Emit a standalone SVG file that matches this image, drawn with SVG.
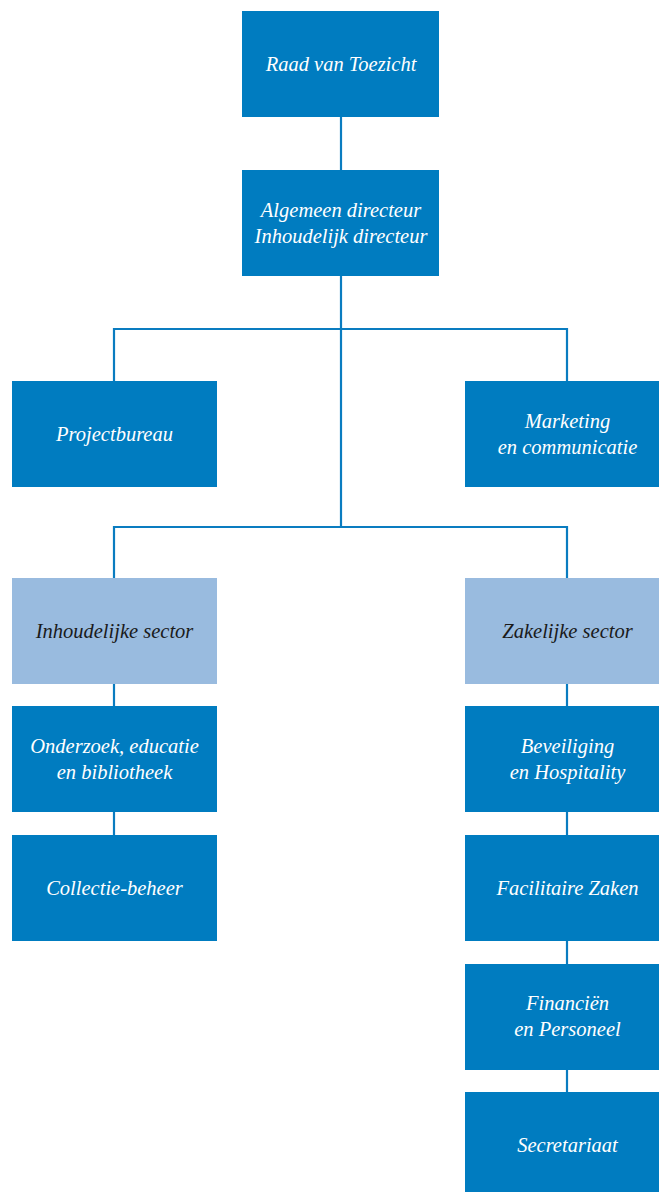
<svg xmlns="http://www.w3.org/2000/svg" width="659" height="1192" viewBox="0 0 659 1192">
<style>
.n{fill:#007cc0}
.s{fill:#99bbdf}
.t{font-family:"Liberation Serif","DejaVu Serif",serif;font-style:italic;font-size:20.5px;text-anchor:middle;fill:#ffffff}
.d{fill:#1a1a1a}
.c{fill:none;stroke:#0a7cc0;stroke-width:2.2}
</style>
<rect width="659" height="1192" fill="#ffffff"/>
<g id="connectors">
<path class="c" d="M341 116V170M341 275V527M114 381V329H567V381M114 578V527H567V578"/>
<path class="c" d="M114 684V706M114 812V835M567 684V706M567 812V835M567 941V964M567 1069V1092"/>
</g>
<g id="raad"><rect class="n" x="242" y="11" width="197" height="106"/><text class="t" x="341" y="71">Raad van Toezicht</text></g>
<g id="directeur"><rect class="n" x="242" y="170" width="197" height="106"/><text class="t" x="341" y="217">Algemeen directeur</text><text class="t" x="341" y="243">Inhoudelijk directeur</text></g>
<g id="projectbureau"><rect class="n" x="12" y="381" width="205" height="106"/><text class="t" x="114.5" y="441">Projectbureau</text></g>
<g id="marketing"><rect class="n" x="465" y="381" width="205" height="106"/><text class="t" x="567.5" y="428">Marketing</text><text class="t" x="567.5" y="454">en communicatie</text></g>
<g id="inhoudelijke"><rect class="s" x="12" y="578" width="205" height="106"/><text class="t d" x="114.5" y="638">Inhoudelijke sector</text></g>
<g id="zakelijke"><rect class="s" x="465" y="578" width="205" height="106"/><text class="t d" x="567.5" y="638">Zakelijke sector</text></g>
<g id="onderzoek"><rect class="n" x="12" y="706" width="205" height="106"/><text class="t" x="114.5" y="753">Onderzoek, educatie</text><text class="t" x="114.5" y="779">en bibliotheek</text></g>
<g id="collectie"><rect class="n" x="12" y="835" width="205" height="106"/><text class="t" x="114.5" y="895">Collectie-beheer</text></g>
<g id="beveiliging"><rect class="n" x="465" y="706" width="205" height="106"/><text class="t" x="567.5" y="753">Beveiliging</text><text class="t" x="567.5" y="779">en Hospitality</text></g>
<g id="facilitaire"><rect class="n" x="465" y="835" width="205" height="106"/><text class="t" x="567.5" y="895">Facilitaire Zaken</text></g>
<g id="financien"><rect class="n" x="465" y="964" width="205" height="106"/><text class="t" x="567.5" y="1010">Financiën</text><text class="t" x="567.5" y="1036">en Personeel</text></g>
<g id="secretariaat"><rect class="n" x="465" y="1092" width="205" height="106"/><text class="t" x="567.5" y="1152">Secretariaat</text></g>
</svg>
